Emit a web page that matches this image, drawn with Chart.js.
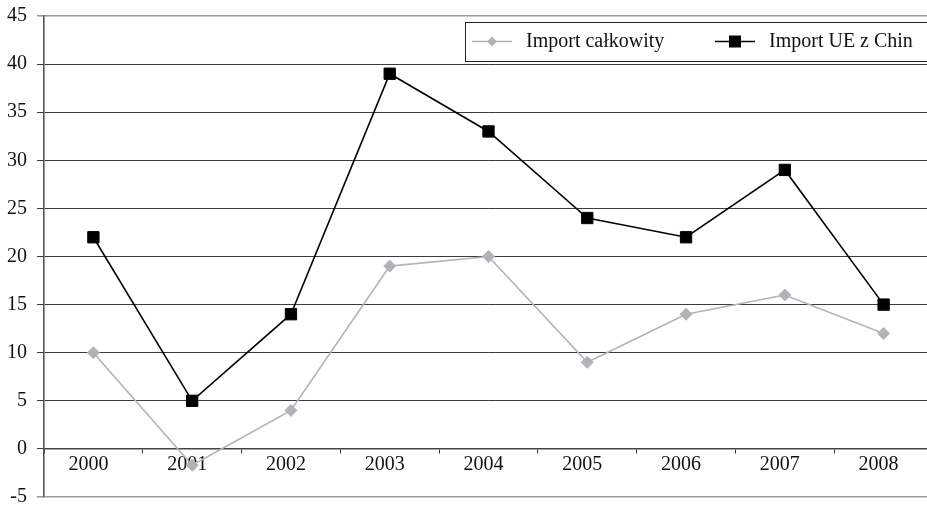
<!DOCTYPE html>
<html>
<head>
<meta charset="utf-8">
<script src="https://cdn.jsdelivr.net/npm/chart.js@4.4.1/dist/chart.umd.min.js"></script>
<style>
  html, body { margin: 0; padding: 0; background: #fff; overflow: hidden; }
  #wrap { position: relative; width: 942px; height: 525px; margin-top: -6px; }
</style>
</head>
<body>
<div id="wrap"><canvas id="chart"></canvas></div>
<script>
// Years on the category axis
const years = ['2000', '2001', '2002', '2003', '2004', '2005', '2006', '2007', '2008'];
// Total imports, % change
const importTotal = [10, -1.7, 4, 19, 20, 9, 14, 16, 12];
// EU imports from China, % change
const importChina = [22, 5, 14, 39, 33, 24, 22, 29, 15];
// Value axis range and step
const yMin = -5, yMax = 45, yStep = 5;

const seriesNames = ['Import całkowity', 'Import UE z Chin'];
const FONT = 'Liberation Serif, "Times New Roman", serif';

// Legend drawn as a framed box inside the plot area
const boxLegend = {
  id: 'boxLegend',
  afterDraw(chart) {
    const ctx = chart.ctx;
    const ds = chart.data.datasets;
    const top = 28, bottom = 67, left = 465, right = 936;
    const cy = (top + bottom) / 2;
    ctx.save();
    ctx.fillStyle = '#fff';
    ctx.fillRect(left, top, right - left, bottom - top);
    ctx.strokeStyle = '#222';
    ctx.lineWidth = 1;
    ctx.strokeRect(left + 0.5, top + 0.5, right - left, bottom - top);
    const items = [
      { x0: 472, x1: 512, tx: 526 },
      { x0: 715, x1: 755, tx: 769 }
    ];
    items.forEach((it, i) => {
      const d = ds[i];
      ctx.strokeStyle = d.borderColor;
      ctx.lineWidth = d.borderWidth;
      ctx.beginPath();
      ctx.moveTo(it.x0, cy);
      ctx.lineTo(it.x1, cy);
      ctx.stroke();
      const mx = (it.x0 + it.x1) / 2;
      ctx.fillStyle = d.pointBackgroundColor;
      ctx.beginPath();
      if (d.pointStyle === 'rect') {
        ctx.rect(mx - 6, cy - 6, 12, 12);
      } else {
        ctx.moveTo(mx - 5, cy);
        ctx.lineTo(mx, cy - 5);
        ctx.lineTo(mx + 5, cy);
        ctx.lineTo(mx, cy + 5);
        ctx.closePath();
      }
      ctx.fill();
      ctx.fillStyle = '#111';
      ctx.font = '20px ' + FONT;
      ctx.textBaseline = 'middle';
      ctx.textAlign = 'left';
      ctx.fillText(d.label, it.tx, cy);
    });
    ctx.restore();
  }
};

new Chart(document.getElementById('chart'), {
  type: 'line',
  data: {
    labels: years,
    datasets: [
      {
        label: seriesNames[0],
        data: importTotal,
        borderColor: '#b2b2b8',
        backgroundColor: '#b2b2b8',
        pointBackgroundColor: '#b2b2b8',
        pointBorderColor: '#b2b2b8',
        borderWidth: 1.6,
        pointStyle: 'rectRot',
        pointRadius: 6,
        pointBorderWidth: 1,
        tension: 0,
        order: 2
      },
      {
        label: seriesNames[1],
        data: importChina,
        borderColor: '#000',
        backgroundColor: '#000',
        pointBackgroundColor: '#000',
        pointBorderColor: '#000',
        borderWidth: 1.6,
        pointStyle: 'rect',
        pointRadius: 8,
        pointBorderWidth: 1,
        tension: 0,
        order: 1
      }
    ]
  },
  options: {
    responsive: true,
    maintainAspectRatio: false,
    animation: false,
    layout: { padding: { top: 16, bottom: 9, left: 0, right: 0 } },
    plugins: {
      legend: { display: false },
      tooltip: { enabled: false }
    },
    scales: {
      x: {
        type: 'category',
        position: { y: 0 },
        offset: true,
        grid: {
          offset: true,
          drawOnChartArea: false,
          drawTicks: true,
          tickLength: 4,
          color: '#333',
          lineWidth: 1
        },
        border: { display: true, color: '#444', width: 1.5 },
        ticks: {
          color: '#111',
          font: { family: FONT, size: 20 },
          padding: 0,
          labelOffset: -5,
          maxRotation: 0,
          autoSkip: false
        }
      },
      y: {
        min: yMin,
        max: yMax,
        ticks: {
          stepSize: yStep,
          color: '#111',
          font: { family: FONT, size: 20 },
          padding: 10
        },
        grid: {
          color: (c) => (c.tick && (c.tick.value === yMax || c.tick.value === yMin)) ? '#9a9a9a' : '#3c3c3c',
          lineWidth: (c) => (c.tick && (c.tick.value === yMax || c.tick.value === yMin)) ? 1.6 : 1,
          tickLength: 7,
          drawTicks: true
        },
        border: { display: true, color: '#555', width: 1.6 },
        afterFit(scale) { scale.width = 44; }
      }
    }
  },
  plugins: [boxLegend]
});
</script>
</body>
</html>
